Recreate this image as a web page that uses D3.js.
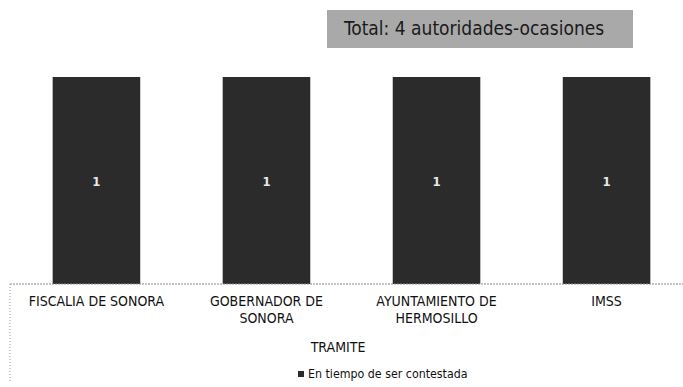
<!DOCTYPE html>
<html>
<head>
<meta charset="utf-8">
<script src="https://cdn.jsdelivr.net/npm/d3@7"></script>
<style>
  body { margin: 0; background: #fff; }
  svg { display: block; font-family: "DejaVu Sans Condensed", "DejaVu Sans", sans-serif; }
</style>
</head>
<body>
<div id="chart"></div>
<script>
// chart data
const categories = [["FISCALIA DE SONORA"], ["GOBERNADOR DE", "SONORA"], ["AYUNTAMIENTO DE", "HERMOSILLO"], ["IMSS"]];
const values = [1, 1, 1, 1];
const seriesName = "En tiempo de ser contestada";
const axisTitle = "TRAMITE";
const totalLabel = "Total: 4 autoridades-ocasiones";

const width = 683, height = 387;

const svg = d3.select("#chart").append("svg")
    .attr("width", width)
    .attr("height", height);

const baseY = 284;
const topY = 77;

const x = d3.scaleBand()
    .domain(categories.map((d, i) => i))
    .range([11, 692])
    .paddingInner(0.485)
    .paddingOuter(0.245);

const y = d3.scaleLinear().domain([0, 1]).range([baseY, topY]);

// bars
svg.selectAll(".bar")
    .data(values)
    .enter().append("rect")
    .attr("class", "bar")
    .attr("x", (d, i) => x(i))
    .attr("y", d => y(d))
    .attr("width", x.bandwidth())
    .attr("height", d => baseY - y(d))
    .attr("fill", "#2b2b2b");

// value labels
svg.selectAll(".val")
    .data(values)
    .enter().append("text")
    .attr("x", (d, i) => x(i) + x.bandwidth() / 2)
    .attr("y", d => (y(d) + baseY) / 2 + 5)
    .attr("text-anchor", "middle")
    .attr("font-size", 13)
    .attr("font-weight", "bold")
    .attr("fill", "#e8e8e8")
    .text(d => d);

// axis line
svg.append("line")
    .attr("x1", 10).attr("x2", width)
    .attr("y1", baseY).attr("y2", baseY)
    .attr("stroke", "#888")
    .attr("stroke-dasharray", "2,1");

svg.append("line")
    .attr("x1", 10).attr("x2", 10)
    .attr("y1", baseY).attr("y2", 382)
    .attr("stroke", "#999")
    .attr("stroke-dasharray", "1,2");

// category labels
const lab = svg.selectAll(".cat")
    .data(categories)
    .enter().append("text")
    .attr("class", "cat")
    .attr("text-anchor", "middle")
    .attr("font-size", 14)
    .attr("fill", "#111");
lab.selectAll("tspan")
    .data((d, i) => d.map(t => ({ t: t, i: i })))
    .enter().append("tspan")
    .attr("x", d => x(d.i) + x.bandwidth() / 2)
    .attr("y", (d, j) => 306 + j * 17)
    .text(d => d.t);

svg.append("text")
    .attr("x", 338)
    .attr("y", 352)
    .attr("text-anchor", "middle")
    .attr("font-size", 14)
    .attr("fill", "#111")
    .text(axisTitle);

// legend
svg.append("rect")
    .attr("x", 298).attr("y", 371)
    .attr("width", 6).attr("height", 6)
    .attr("fill", "#2b2b2b");
svg.append("text")
    .attr("x", 308)
    .attr("y", 378)
    .attr("font-size", 12.3)
    .attr("fill", "#111")
    .text(seriesName);

// total box
svg.append("rect")
    .attr("x", 327).attr("y", 10)
    .attr("width", 306).attr("height", 38)
    .attr("fill", "#a9a9a9");
svg.append("text")
    .attr("x", 344)
    .attr("y", 35)
    .attr("font-size", 19)
    .attr("fill", "#1a1a1a")
    .text(totalLabel);
</script>
</body>
</html>
